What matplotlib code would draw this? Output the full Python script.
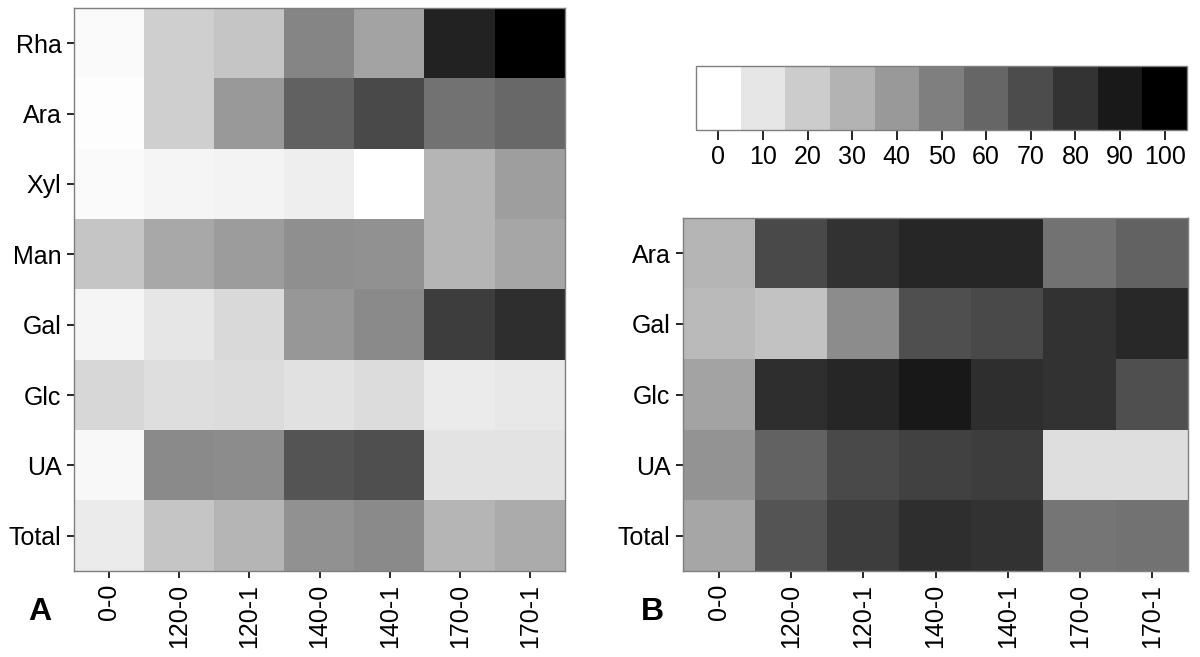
import numpy as np
import matplotlib
matplotlib.use("Agg")
import matplotlib.pyplot as plt
from matplotlib import colors as mcolors
from matplotlib.ticker import NullLocator

plt.rcParams['font.family'] = ['Liberation Sans', 'DejaVu Sans']

conditions = ["0-0", "120-0", "120-1", "140-0", "140-1", "170-0", "170-1"]

sugars_a = ["Rha", "Ara", "Xyl", "Man", "Gal", "Glc", "UA", "Total"]
values_a = [
    [2, 19, 23, 48, 36, 86, 100],
    [1, 19, 40, 62, 71, 55, 59],
    [2, 4, 5, 7, 0, 29, 38],
    [23, 34, 39, 44, 43, 29, 35],
    [4, 10, 15, 41, 46, 76, 82],
    [16, 13, 14, 12, 14, 8, 9],
    [3, 46, 45, 67, 69, 11, 11],
    [8, 23, 29, 43, 46, 29, 33],
]

sugars_b = ["Ara", "Gal", "Glc", "UA", "Total"]
values_b = [
    [29, 71, 80, 85, 85, 55, 61],
    [27, 24, 45, 69, 71, 80, 84],
    [36, 82, 85, 90, 82, 80, 69],
    [42, 61, 71, 74, 76, 13, 13],
    [35, 67, 76, 82, 80, 54, 55],
]

legend_ticks = [0, 10, 20, 30, 40, 50, 60, 70, 80, 90, 100]

cmap = mcolors.LinearSegmentedColormap.from_list("wb", ["white", "black"])
frame_col = "#7f7f7f"
fs = 18


def draw_heat(ax, data, rows):
    arr = np.array(data, dtype=float)
    ax.imshow(arr, cmap=cmap, vmin=0, vmax=100, aspect="auto",
              interpolation="nearest")
    ax.set_xticks(range(len(conditions)))
    ax.set_xticklabels(conditions, rotation=90, fontsize=fs)
    ax.set_yticks(range(len(rows)))
    ax.set_yticklabels(rows, fontsize=fs)
    ax.tick_params(length=5, width=1.2, color="black", pad=4)
    for s in ax.spines.values():
        s.set_color(frame_col)
        s.set_linewidth(1)


fig = plt.figure(figsize=(12, 6.57), dpi=100)

ax_a = fig.add_axes([74 / 1200, 1 - 571 / 657, (565 - 74) / 1200, (571 - 8) / 657])
draw_heat(ax_a, values_a, sugars_a)

ax_b = fig.add_axes([683 / 1200, 1 - 571 / 657, (1188 - 683) / 1200, (571 - 218) / 657])
draw_heat(ax_b, values_b, sugars_b)

# discrete legend bar
ax_c = fig.add_axes([696 / 1200, 1 - 130 / 657, (1187 - 696) / 1200, (130 - 66) / 657])
bounds = np.arange(-5, 110, 10)
bin_cols = [cmap(t / 100) for t in legend_ticks]
lcmap = mcolors.ListedColormap(bin_cols)
norm = mcolors.BoundaryNorm(bounds, lcmap.N)
cb = fig.colorbar(plt.cm.ScalarMappable(norm=norm, cmap=lcmap), cax=ax_c,
                  orientation="horizontal", ticks=legend_ticks)
ax_c.xaxis.set_minor_locator(NullLocator())
cb.ax.tick_params(labelsize=fs, length=7, width=1.2, pad=4)
cb.outline.set_edgecolor(frame_col)
cb.outline.set_linewidth(1)

fig.text(40 / 1200, 1 - 612 / 657, "A", fontsize=23, fontweight="bold",
         ha="center", va="center")
fig.text(652 / 1200, 1 - 612 / 657, "B", fontsize=23, fontweight="bold",
         ha="center", va="center")

fig.savefig("out.png", dpi=100)
